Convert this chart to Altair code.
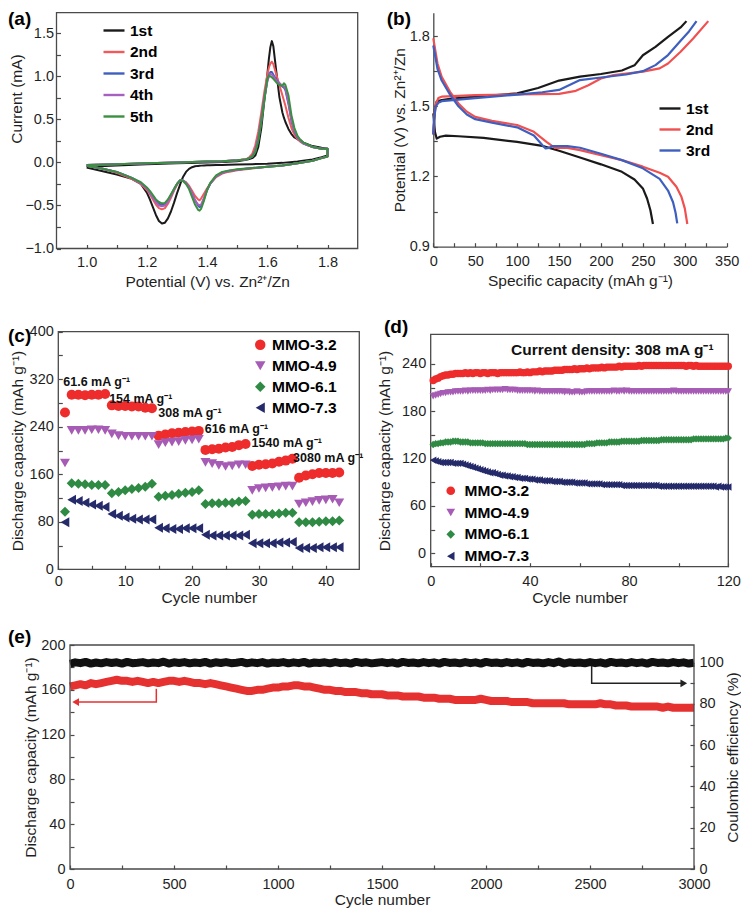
import altair as alt
import pandas as pd

W, H = 733, 903
FONT = "Liberation Sans"
INK = "#1f1f1f"
FRAME = "#4a4a4a"

# plot-area pixel boxes (chart coordinates)
A_X, A_Y = [48.5, 349.7], [240.5, 4.7]
B_X, B_Y = [425.3, 718.7], [238.7, 4.7]
C_X, C_Y = [50.3, 351.3], [561.3, 323.7]
D_X, D_Y = [422.7, 720.3], [558.7, 326.3]
E_X, E_Y = [62.0, 686.0], [861.0, 637.0]

# ---------------- (a) cyclic voltammetry ----------------
cv_names = ["1st", "2nd", "3rd", "4th", "5th"]
cv_colors = ["#1a1a1a", "#f05a5a", "#3e5fbf", "#a860c0", "#3a9040"]
cv_v_up = [1.00, 1.10, 1.20, 1.30, 1.40, 1.45, 1.50, 1.53, 1.54, 1.55, 1.56, 1.57, 1.58, 1.59, 1.60, 1.605,
           1.61, 1.615, 1.62, 1.63, 1.64, 1.65, 1.655, 1.66, 1.67, 1.68, 1.69, 1.70, 1.71, 1.72, 1.75, 1.78, 1.80]
cv_v_down = [1.80, 1.78, 1.75, 1.70, 1.65, 1.60, 1.55, 1.50, 1.47, 1.45, 1.43, 1.41, 1.40, 1.39, 1.38, 1.375,
             1.37, 1.36, 1.35, 1.34, 1.33, 1.32, 1.315, 1.31, 1.30, 1.29, 1.28, 1.27, 1.26, 1.25, 1.24, 1.23,
             1.22, 1.21, 1.20, 1.18, 1.15, 1.10, 1.05, 1.00]
cv1_up = [-0.05, -0.035, -0.02, -0.01, 0.0, 0.005, 0.015, 0.03, 0.04, 0.05, 0.08, 0.18, 0.40, 0.72, 1.02, 1.20,
          1.34, 1.41, 1.35, 1.05, 0.76, 0.58, 0.52, 0.47, 0.39, 0.33, 0.29, 0.27, 0.26, 0.23, 0.19, 0.17, 0.16]
cv2_up = [-0.03, -0.02, -0.01, 0.0, 0.01, 0.015, 0.025, 0.04, 0.06, 0.10, 0.20, 0.36, 0.58, 0.82, 1.02, 1.10,
          1.15, 1.17, 1.14, 1.02, 0.90, 0.78, 0.72, 0.66, 0.52, 0.40, 0.32, 0.27, 0.24, 0.22, 0.18, 0.16, 0.16]
cv3_up = [-0.03, -0.02, -0.01, 0.0, 0.01, 0.015, 0.025, 0.035, 0.05, 0.07, 0.14, 0.28, 0.50, 0.75, 0.95, 1.01,
          1.05, 1.05, 1.02, 0.96, 0.92, 0.88, 0.87, 0.84, 0.68, 0.48, 0.36, 0.29, 0.25, 0.22, 0.18, 0.16, 0.16]
cv4_up = [-0.03, -0.02, -0.01, 0.0, 0.01, 0.015, 0.025, 0.035, 0.05, 0.07, 0.13, 0.27, 0.48, 0.74, 0.94, 1.00,
          1.03, 1.02, 1.00, 0.95, 0.92, 0.89, 0.885, 0.86, 0.70, 0.50, 0.37, 0.30, 0.25, 0.22, 0.18, 0.16, 0.16]
cv5_up = [-0.03, -0.02, -0.01, 0.0, 0.01, 0.015, 0.025, 0.035, 0.05, 0.07, 0.12, 0.25, 0.47, 0.72, 0.97, 1.01,
          1.00, 0.99, 0.97, 0.93, 0.90, 0.89, 0.92, 0.90, 0.78, 0.55, 0.40, 0.31, 0.26, 0.23, 0.18, 0.16, 0.16]
cv1_down = [0.08, 0.06, 0.035, 0.01, -0.005, -0.015, -0.02, -0.025, -0.028, -0.03, -0.03, -0.032, -0.033, -0.035,
            -0.037, -0.038, -0.04, -0.045, -0.055, -0.075, -0.11, -0.17, -0.21, -0.26, -0.36, -0.47, -0.57, -0.65,
            -0.70, -0.71, -0.68, -0.61, -0.52, -0.43, -0.35, -0.25, -0.19, -0.14, -0.10, -0.06]
cv2_down = [0.07, 0.05, 0.02, -0.01, -0.035, -0.05, -0.07, -0.09, -0.11, -0.13, -0.17, -0.25, -0.30, -0.36, -0.42,
            -0.44, -0.43, -0.39, -0.33, -0.27, -0.23, -0.21, -0.205, -0.21, -0.26, -0.33, -0.41, -0.48, -0.53,
            -0.545, -0.53, -0.49, -0.43, -0.37, -0.32, -0.25, -0.19, -0.12, -0.07, -0.04]
cv3_down = [0.07, 0.05, 0.02, -0.01, -0.035, -0.05, -0.065, -0.085, -0.10, -0.12, -0.16, -0.25, -0.32, -0.42, -0.51,
            -0.52, -0.50, -0.44, -0.36, -0.29, -0.24, -0.21, -0.205, -0.21, -0.25, -0.31, -0.38, -0.44, -0.48,
            -0.495, -0.48, -0.45, -0.40, -0.35, -0.30, -0.24, -0.18, -0.11, -0.07, -0.04]
cv4_down = [0.07, 0.05, 0.02, -0.01, -0.035, -0.05, -0.065, -0.085, -0.10, -0.12, -0.16, -0.25, -0.32, -0.41, -0.49,
            -0.50, -0.49, -0.44, -0.36, -0.29, -0.24, -0.21, -0.205, -0.21, -0.25, -0.32, -0.39, -0.46, -0.50,
            -0.51, -0.50, -0.46, -0.41, -0.35, -0.30, -0.24, -0.18, -0.11, -0.07, -0.04]
cv5_down = [0.07, 0.05, 0.02, -0.01, -0.035, -0.05, -0.065, -0.08, -0.095, -0.11, -0.15, -0.24, -0.32, -0.44, -0.54,
            -0.56, -0.55, -0.49, -0.40, -0.31, -0.25, -0.215, -0.205, -0.21, -0.25, -0.31, -0.37, -0.43, -0.47,
            -0.475, -0.46, -0.43, -0.38, -0.33, -0.29, -0.23, -0.18, -0.11, -0.07, -0.04]
a_xticks = [1.0, 1.1, 1.2, 1.3, 1.4, 1.5, 1.6, 1.7, 1.8]
a_yticks = [-1.0, -0.75, -0.5, -0.25, 0.0, 0.25, 0.5, 0.75, 1.0, 1.25, 1.5]

# ---------------- (b) charge / discharge ----------------
gcd_names = ["1st", "2nd", "3rd"]
gcd_colors = ["#1a1a1a", "#f05050", "#3e5fbf"]
gcd1_dis_cap = [0, 2, 4, 8, 15, 30, 60, 100, 130, 150, 175, 200, 225, 240, 250, 255, 259, 262]
gcd1_dis_v = [1.47, 1.39, 1.362, 1.37, 1.375, 1.372, 1.365, 1.348, 1.331, 1.31, 1.281, 1.252, 1.22, 1.187, 1.149,
              1.106, 1.056, 0.997]
gcd1_chg_cap = [0, 1, 2, 4, 10, 20, 50, 100, 125, 150, 175, 200, 225, 240, 250, 265, 280, 295, 302]
gcd1_chg_v = [1.38, 1.43, 1.49, 1.52, 1.527, 1.532, 1.541, 1.555, 1.578, 1.61, 1.627, 1.638, 1.653, 1.675, 1.718,
              1.754, 1.797, 1.837, 1.864]
gcd2_dis_cap = [0, 5, 10, 20, 30, 40, 50, 70, 100, 120, 135, 145, 160, 175, 200, 225, 250, 270, 280, 290, 296, 300, 303]
gcd2_dis_v = [1.79, 1.683, 1.626, 1.562, 1.512, 1.477, 1.455, 1.438, 1.42, 1.391, 1.348, 1.322, 1.322, 1.313, 1.291,
              1.27, 1.242, 1.216, 1.199, 1.156, 1.113, 1.064, 0.997]
gcd2_chg_cap = [0, 1, 3, 6, 10, 50, 100, 150, 170, 185, 200, 215, 250, 270, 280, 295, 310, 328]
gcd2_chg_v = [1.38, 1.45, 1.51, 1.535, 1.541, 1.548, 1.551, 1.553, 1.566, 1.59, 1.619, 1.633, 1.648, 1.662, 1.683,
              1.733, 1.79, 1.864]
gcd3_dis_cap = [0, 5, 10, 20, 30, 40, 50, 70, 100, 120, 130, 134, 138, 142, 160, 175, 200, 225, 250, 270, 280, 286,
                289, 291]
gcd3_dis_v = [1.76, 1.66, 1.61, 1.55, 1.50, 1.465, 1.445, 1.43, 1.41, 1.375, 1.335, 1.32, 1.322, 1.33, 1.33, 1.323,
              1.297, 1.27, 1.235, 1.19, 1.14, 1.09, 1.045, 1.0]
gcd3_chg_cap = [0, 1, 3, 6, 10, 50, 100, 130, 150, 165, 175, 200, 230, 250, 265, 280, 295, 305, 314]
gcd3_chg_v = [1.38, 1.45, 1.50, 1.515, 1.522, 1.535, 1.55, 1.56, 1.57, 1.595, 1.612, 1.623, 1.636, 1.65, 1.676,
              1.719, 1.78, 1.82, 1.864]
b_xticks = [0, 25, 50, 75, 100, 125, 150, 175, 200, 225, 250, 275, 300, 325, 350]
b_yticks = [0.9, 1.05, 1.2, 1.35, 1.5, 1.65, 1.8]

# ---------------- (c) rate capability ----------------
mmo_names = ["MMO-3.2", "MMO-4.9", "MMO-6.1", "MMO-7.3"]
mmo_colors = ["#ee2c2c", "#a65bb4", "#2f8a43", "#252a6a"]
mmo_shapes = ["circle", "triangle-down", "diamond", "triangle-left"]
rate_red = [264, 294, 294, 293, 294, 294, 295, 276, 275, 275, 274, 274, 272, 271, 225, 227, 229, 230, 231, 232, 233,
            201, 202, 203, 205, 206, 209, 211, 174, 176, 177, 178, 181, 183, 186, 154, 158, 160, 162, 162, 162, 163]
rate_purple = [179, 234, 234, 234, 235, 235, 234, 228, 225, 224, 224, 224, 224, 224, 210, 213, 214, 215, 217, 218,
               219, 180, 178, 175, 173, 174, 176, 176, 133, 136, 137, 138, 139, 140, 140, 110, 112, 114, 116, 117,
               118, 112]
rate_green = [97, 145, 144, 143, 142, 142, 142, 128, 130, 133, 135, 137, 139, 144, 122, 124, 125, 127, 129, 130, 133,
              110, 111, 111, 112, 112, 114, 115, 92, 93, 93, 93, 94, 95, 95, 79, 79, 79, 80, 81, 81, 82]
rate_navy = [79, 117, 115, 112, 109, 107, 105, 93, 90, 87, 85, 84, 84, 84, 70, 69, 68, 68, 69, 69, 69, 58, 57, 57, 57,
             57, 57, 58, 44, 44, 44, 44, 45, 45, 46, 36, 36, 36, 37, 37, 37, 37]
rate_labels = ["61.6 mA g⁻¹", "154 mA g⁻¹", "308 mA g⁻¹", "616 mA g⁻¹", "1540 mA g⁻¹", "3080 mA g⁻¹"]
rate_label_x = [0.75, 7.6, 14.95, 21.9, 28.9, 35.1]
rate_label_y = [316, 286, 262.6, 236, 212, 188]
c_xticks = [0, 5, 10, 15, 20, 25, 30, 35, 40]
c_yticks = [0, 40, 80, 120, 160, 200, 240, 280, 320, 360, 400]

# ---------------- (d) cycling at 308 mA/g ----------------
cyc_red = [219, 221, 222, 224, 225, 226, 226, 227, 227, 228,
           228, 228, 228, 229, 228, 229, 228, 229, 229, 228,
           229, 229, 228, 229, 229, 229, 228, 229, 229, 229,
           229, 229, 229, 229, 229, 230, 229, 229, 230, 229,
           230, 230, 230, 231, 230, 231, 231, 231, 231, 232,
           232, 232, 232, 233, 233, 233, 233, 234, 233, 234,
           234, 234, 235, 234, 235, 235, 235, 235, 236, 235,
           236, 236, 236, 236, 236, 237, 236, 237, 237, 237,
           237, 237, 237, 238, 237, 238, 238, 238, 238, 238,
           238, 238, 238, 238, 238, 238, 238, 238, 238, 238,
           238, 238, 237, 238, 238, 237, 238, 237, 237, 237,
           237, 237, 237, 237, 237, 237, 237, 237, 237, 237]
cyc_purple = [199, 200, 201, 202, 203, 203, 204, 204, 204, 205,
              205, 205, 205, 206, 205, 206, 206, 206, 206, 206,
              206, 206, 207, 206, 207, 207, 207, 207, 207, 208,
              207, 207, 207, 207, 206, 206, 206, 206, 206, 206,
              206, 205, 206, 205, 205, 205, 205, 205, 205, 205,
              205, 205, 205, 204, 205, 204, 204, 204, 205, 204,
              204, 204, 205, 205, 205, 205, 205, 205, 205, 205,
              205, 205, 205, 206, 205, 205, 206, 205, 206, 205,
              205, 205, 205, 205, 205, 205, 205, 205, 205, 205,
              205, 205, 205, 205, 205, 205, 205, 206, 205, 205,
              205, 205, 205, 205, 205, 205, 205, 205, 205, 205,
              205, 205, 205, 205, 205, 205, 205, 205, 205, 205]
cyc_green = [138, 139, 139, 140, 140, 141, 141, 141, 142, 142,
             142, 141, 141, 141, 141, 140, 140, 140, 140, 140,
             140, 139, 139, 139, 139, 139, 139, 139, 139, 139,
             139, 139, 139, 139, 139, 139, 139, 139, 138, 138,
             138, 138, 138, 138, 138, 138, 138, 138, 138, 138,
             138, 138, 138, 138, 138, 138, 138, 138, 138, 138,
             138, 138, 139, 139, 139, 139, 140, 140, 140, 140,
             140, 141, 141, 141, 141, 141, 142, 142, 142, 142,
             142, 142, 142, 142, 143, 143, 143, 143, 143, 143,
             143, 143, 144, 144, 144, 144, 144, 144, 144, 144,
             144, 144, 144, 144, 144, 145, 145, 145, 145, 145,
             145, 145, 145, 145, 145, 145, 145, 145, 146, 146]
cyc_navy = [118, 117, 116, 115, 115, 115, 115, 115, 114, 114,
            114, 114, 113, 112, 111, 110, 109, 108, 107, 106,
            105, 104, 103, 102, 102, 101, 100, 99, 99, 98,
            98, 97, 97, 96, 96, 95, 95, 95, 94, 94,
            94, 93, 93, 93, 92, 92, 92, 92, 91, 91,
            91, 91, 90, 90, 90, 90, 90, 89, 89, 89,
            89, 89, 88, 88, 88, 88, 88, 88, 87, 87,
            87, 87, 87, 87, 87, 87, 86, 86, 86, 86,
            86, 86, 86, 86, 86, 86, 86, 86, 86, 86,
            86, 85, 85, 85, 85, 85, 85, 85, 85, 85,
            85, 85, 85, 85, 85, 85, 85, 85, 85, 85,
            85, 85, 85, 85, 84, 85, 84, 84, 84, 84]
d_note = "Current density: 308 mA g⁻¹"
d_note_x, d_note_y = 32.4, 257.7
d_xticks = [0, 20, 40, 60, 80, 100, 120]
d_yticks = [0, 30, 60, 90, 120, 150, 180, 210, 240]

# ---------------- (e) long-term cycling ----------------
long_cap = [163, 164, 165, 164, 166, 165, 166, 167, 168, 169,
            168, 168, 167, 168, 167, 166, 167, 166, 167, 168,
            168, 167, 168, 167, 166, 166, 165, 166, 165, 164,
            163, 162, 161, 160, 159, 159, 160, 160, 161, 162,
            162, 163, 163, 164, 164, 163, 163, 162, 161, 160,
            160, 159, 159, 158, 158, 158, 157, 157, 156, 156,
            156, 155, 155, 155, 154, 154, 154, 154, 153, 153,
            153, 152, 152, 152, 151, 151, 151, 151, 151, 152,
            151, 150, 150, 150, 150, 149, 149, 149, 149, 148,
            148, 148, 148, 148, 148, 148, 147, 147, 147, 147,
            147, 147, 148, 147, 147, 146, 146, 146, 145, 145,
            145, 145, 145, 145, 144, 145, 144, 144, 144, 144,
            144]
long_ce = [99.5, 100.2, 99.8, 100.4, 99.6, 100.1, 99.7, 100.3, 99.9, 100.2,
           99.6, 100.4, 99.8, 100.0, 100.3, 99.7, 100.1, 99.8, 100.5, 99.6,
           100.2, 99.9, 100.3, 99.7, 100.1, 99.8, 100.4, 99.6, 100.2, 99.9,
           100.3, 99.8, 100.0, 100.4, 99.7, 100.2, 99.8, 100.3, 99.6, 100.1,
           99.9, 100.3, 99.7, 100.2, 99.8, 100.4, 99.6, 100.1, 99.9, 100.2,
           99.7, 100.3, 99.8, 100.1, 99.6, 100.4, 99.9, 100.2, 99.7, 100.0,
           100.3, 99.8, 100.2, 99.6, 100.4, 99.9, 100.1, 99.7, 100.3, 99.8,
           100.2, 99.6, 100.4, 99.9, 100.1, 99.7, 100.3, 99.8, 100.2, 99.6,
           100.4, 99.9, 100.1, 99.7, 100.3, 99.8, 100.2, 99.6, 100.4, 99.9,
           100.1, 99.7, 100.3, 99.8, 100.6, 99.6, 100.2, 99.9, 100.1, 99.7,
           100.3, 99.8, 100.2, 99.6, 100.4, 99.9, 100.1, 99.7, 100.3, 99.8,
           100.2, 99.6, 100.4, 99.9, 100.1, 99.7, 100.3, 99.8, 100.2, 99.6,
           100.0]
long_step = 25
red_arrow_x = [415, 415, 27]
red_arrow_y = [161, 149, 149]
black_arrow_x = [2508, 2508, 2951]
black_arrow_y = [98.4, 90, 90]
e_xticks = [0, 250, 500, 750, 1000, 1250, 1500, 1750, 2000, 2250, 2500, 2750, 3000]
e_lticks = [0, 20, 40, 60, 80, 100, 120, 140, 160, 180, 200]
e_rticks = [0, 10, 20, 30, 40, 50, 60, 70, 80, 90, 100]

E_RED = "#e63131"
E_BLACK = "#111111"

# ---------------- helpers ----------------
def axis(orient, pos, values, label_expr, title, gap, tpad, **kw):
    if orient == "left":
        off = -pos
    elif orient == "right":
        off = pos - W
    elif orient == "bottom":
        off = pos - H
    else:
        off = -pos
    opts = dict(orient=orient, offset=off, values=values, labelExpr=label_expr, title=title,
                tickSize={"expr": "-4"}, labelPadding=gap + 4, titlePadding=tpad,
                labelOverlap=False, labelFlush=False, grid=False, domain=False)
    opts.update(kw)
    return alt.Axis(**opts)


def lin(domain, rng):
    return alt.Scale(domain=domain, range=rng, nice=False, zero=False)


def frame(xs, ys, xd, yd):
    df = pd.DataFrame({"x0": [xd[0]], "x1": [xd[1]], "y0": [yd[0]], "y1": [yd[1]]})
    return alt.Chart(df).mark_rect(filled=False, stroke=FRAME, strokeWidth=1.3).encode(
        x=alt.X("x0:Q", scale=xs, axis=None), x2="x1:Q",
        y=alt.Y("y0:Q", scale=ys, axis=None), y2="y1:Q")


def plabel(txt, x, y):
    return alt.Chart(pd.DataFrame({"t": [txt]})).mark_text(
        align="left", baseline="top", fontSize=19, fontWeight="bold", font=FONT, color="#000"
    ).encode(text="t:N", x=alt.value(x), y=alt.value(y))


# ---------------- panel (a) ----------------
rows = []
for name, up, down in zip(cv_names, [cv1_up, cv2_up, cv3_up, cv4_up, cv5_up],
                          [cv1_down, cv2_down, cv3_down, cv4_down, cv5_down]):
    k = 0
    for v, i in zip(cv_v_up, up):
        rows.append({"cycle": name, "V": v, "I": i, "k": k})
        k += 1
    for v, i in zip(cv_v_down, down):
        rows.append({"cycle": name, "V": v, "I": i, "k": k})
        k += 1
cv_df = pd.DataFrame(rows)

A_XD, A_YD = [0.9, 1.9], [-1.0, 1.74]
xa, ya = lin(A_XD, A_X), lin(A_YD, A_Y)
a_lines = alt.Chart(cv_df).mark_line(strokeWidth=2, strokeJoin="round").encode(
    x=alt.X("V:Q", scale=xa, axis=axis("bottom", A_Y[0], a_xticks,
            "abs(round(datum.value*10)) % 2 == 0 ? format(datum.value, '.1f') : ''",
            "Potential (V) vs. Zn²⁺/Zn", 7, 5)),
    y=alt.Y("I:Q", scale=ya, axis=axis("left", A_X[0], a_yticks,
            "abs(round(datum.value*4)) % 2 == 0 ? format(datum.value, '.1f') : ''",
            "Current (mA)", 3, 0.5, titleY=90.5)),
    color=alt.Color("cycle:N", scale=alt.Scale(domain=cv_names, range=cv_colors),
                    legend=alt.Legend(orient="none", legendX=94, legendY=10.5, title=None,
                                      symbolType="stroke", symbolSize=441, symbolStrokeWidth=2.4,
                                      rowPadding=0.5, labelOffset=4, padding=0)),
    order="k:Q",
)

# ---------------- panel (b) ----------------
rows = []
for name, cap, v, br in [("1st", gcd1_dis_cap, gcd1_dis_v, "d"), ("1st", gcd1_chg_cap, gcd1_chg_v, "c"),
                         ("2nd", gcd2_dis_cap, gcd2_dis_v, "d"), ("2nd", gcd2_chg_cap, gcd2_chg_v, "c"),
                         ("3rd", gcd3_dis_cap, gcd3_dis_v, "d"), ("3rd", gcd3_chg_cap, gcd3_chg_v, "c")]:
    for k, (c, vv) in enumerate(zip(cap, v)):
        rows.append({"cycle": name, "curve": name + br, "cap": c, "V": vv, "k": k})
gcd_df = pd.DataFrame(rows)

B_XD, B_YD = [0, 350], [0.9, 1.9]
xb, yb = lin(B_XD, B_X), lin(B_YD, B_Y)
b_lines = alt.Chart(gcd_df).mark_line(strokeWidth=2.2, strokeJoin="round").encode(
    x=alt.X("cap:Q", scale=xb, axis=axis("bottom", B_Y[0], b_xticks,
            "datum.value % 50 == 0 ? format(datum.value, 'd') : ''",
            "Specific capacity (mAh g⁻¹)", 8, 5, domain=True)),
    y=alt.Y("V:Q", scale=yb, axis=axis("left", B_X[0], b_yticks,
            "abs(round(datum.value*100)) % 30 == 0 ? format(datum.value, '.1f') : ''",
            "Potential (V) vs. Zn²⁺/Zn", 4, 2, domain=True)),
    color=alt.Color("cycle:N", scale=alt.Scale(domain=gcd_names, range=gcd_colors),
                    legend=alt.Legend(orient="none", legendX=650, legendY=88.5, title=None,
                                      symbolType="stroke", symbolSize=441, symbolStrokeWidth=2.4,
                                      rowPadding=0, labelOffset=4, padding=0)),
    detail="curve:N",
    order="k:Q",
)

# ---------------- panel (c) ----------------
rows = []
for name, vals in zip(mmo_names, [rate_red, rate_purple, rate_green, rate_navy]):
    for k, val in enumerate(vals):
        rows.append({"series": name, "cycle": k + 1, "cap": val})
rate_df = pd.DataFrame(rows)

C_XD, C_YD = [0, 45], [0, 400]
xc, yc = lin(C_XD, C_X), lin(C_YD, C_Y)
leg_c = alt.Legend(orient="none", legendX=244.5, legendY=329, title=None, symbolSize=110,
                   rowPadding=4, labelOffset=4, padding=0)
c_pts = alt.Chart(rate_df).mark_point(filled=True, size=100, opacity=1).encode(
    x=alt.X("cycle:Q", scale=xc, axis=axis("bottom", C_Y[0], c_xticks,
            "datum.value % 10 == 0 ? format(datum.value, 'd') : ''", "Cycle number", 5, 3)),
    y=alt.Y("cap:Q", scale=yc, axis=axis("left", C_X[0], c_yticks,
            "datum.value % 80 == 0 ? format(datum.value, 'd') : ''", "Discharge capacity (mAh g⁻¹)", 5, 3.5)),
    color=alt.Color("series:N", scale=alt.Scale(domain=mmo_names, range=mmo_colors), legend=leg_c),
    shape=alt.Shape("series:N", scale=alt.Scale(domain=mmo_names, range=mmo_shapes), legend=leg_c),
)
ann_df = pd.DataFrame({"t": rate_labels, "x": rate_label_x, "y": rate_label_y})
c_ann = alt.Chart(ann_df).mark_text(align="left", baseline="middle", fontSize=12.5, fontWeight="bold",
                                    font=FONT, color="#111").encode(
    x=alt.X("x:Q", scale=xc, axis=None), y=alt.Y("y:Q", scale=yc, axis=None), text="t:N")

# ---------------- panel (d) ----------------
rows = []
for name, vals in zip(mmo_names, [cyc_red, cyc_purple, cyc_green, cyc_navy]):
    for k, val in enumerate(vals):
        rows.append({"series": name, "cycle": k + 1, "cap": val})
cyc_df = pd.DataFrame(rows)

D_XD, D_YD = [0, 120], [-17, 277.6]
xd, yd = lin(D_XD, D_X), lin(D_YD, D_Y)
leg_d = alt.Legend(orient="none", legendX=435, legendY=475, title=None, symbolSize=75,
                   rowPadding=4.8, labelOffset=6, padding=0)
d_pts = alt.Chart(cyc_df).mark_point(filled=True, size=55, opacity=1).encode(
    x=alt.X("cycle:Q", scale=xd, axis=axis("bottom", D_Y[0], d_xticks,
            "datum.value % 40 == 0 ? format(datum.value, 'd') : ''", "Cycle number", 8, 2)),
    y=alt.Y("cap:Q", scale=yd, axis=axis("left", D_X[0], d_yticks,
            "datum.value % 60 == 0 ? format(datum.value, 'd') : ''", "Discharge capacity (mAh g⁻¹)", 5, 9)),
    color=alt.Color("series:N", scale=alt.Scale(domain=mmo_names, range=mmo_colors), legend=leg_d),
    shape=alt.Shape("series:N", scale=alt.Scale(domain=mmo_names, range=mmo_shapes), legend=leg_d),
)
d_txt = alt.Chart(pd.DataFrame({"t": [d_note], "x": [d_note_x], "y": [d_note_y]})).mark_text(
    align="left", baseline="middle", fontSize=15.5, fontWeight="bold", font=FONT, color="#111").encode(
    x=alt.X("x:Q", scale=xd, axis=None), y=alt.Y("y:Q", scale=yd, axis=None), text="t:N")

# ---------------- panel (e) ----------------
long_df = pd.DataFrame({"cycle": [long_step * k for k in range(len(long_cap))], "cap": long_cap, "ce": long_ce})
E_XD, E_LD, E_RD = [0, 3000], [0, 200], [0, 108.6]
xe, yel, yer = lin(E_XD, E_X), lin(E_LD, E_Y), lin(E_RD, E_Y)

e_cap = alt.Chart(long_df).mark_line(strokeWidth=8, color=E_RED, strokeJoin="round").encode(
    x=alt.X("cycle:Q", scale=xe, axis=axis("bottom", E_Y[0], e_xticks,
            "datum.value % 500 == 0 ? format(datum.value, 'd') : ''", "Cycle number", 8, 2)),
    y=alt.Y("cap:Q", scale=yel, axis=axis("left", E_X[0], e_lticks,
            "datum.value % 40 == 0 ? format(datum.value, 'd') : ''", "Discharge capacity (mAh g⁻¹)", 5, 2)),
)
e_ce = alt.Chart(long_df).mark_line(strokeWidth=8, color=E_BLACK, strokeJoin="round").encode(
    x=alt.X("cycle:Q", scale=xe, axis=None),
    y=alt.Y("ce:Q", scale=yer, axis=axis("right", E_X[1], e_rticks,
            "datum.value % 20 == 0 ? format(datum.value, 'd') : ''", "Coulombic efficiency (%)", 5, 2,
            titleAngle=-90, titleBaseline="top")),
)
ra_df = pd.DataFrame({"x": red_arrow_x, "y": red_arrow_y, "k": [0, 1, 2]})
ba_df = pd.DataFrame({"x": black_arrow_x, "y": black_arrow_y, "k": [0, 1, 2]})
e_ra = alt.Chart(ra_df).mark_line(strokeWidth=1.5, color=E_RED).encode(
    x=alt.X("x:Q", scale=xe, axis=None), y=alt.Y("y:Q", scale=yel, axis=None), order="k:Q")
e_rh = alt.Chart(ra_df.tail(1)).mark_point(shape="triangle-left", filled=True, size=60, color=E_RED,
                                           opacity=1).encode(
    x=alt.X("x:Q", scale=xe, axis=None), y=alt.Y("y:Q", scale=yel, axis=None))
e_ba = alt.Chart(ba_df).mark_line(strokeWidth=1.5, color="#222").encode(
    x=alt.X("x:Q", scale=xe, axis=None), y=alt.Y("y:Q", scale=yer, axis=None), order="k:Q")
e_bh = alt.Chart(ba_df.tail(1)).mark_point(shape="triangle-right", filled=True, size=60, color="#222",
                                           opacity=1).encode(
    x=alt.X("x:Q", scale=xe, axis=None), y=alt.Y("y:Q", scale=yer, axis=None))

units = [
    frame(xa, ya, A_XD, A_YD), a_lines, plabel("(a)", 0, 2),
    b_lines, plabel("(b)", 378.7, 2),
    frame(xc, yc, C_XD, C_YD), c_pts, c_ann, plabel("(c)", 0, 319),
    frame(xd, yd, D_XD, D_YD), d_pts, d_txt, plabel("(d)", 376, 310),
    e_cap, e_ce, e_ra, e_rh, e_ba, e_bh, frame(xe, yel, E_XD, E_LD), plabel("(e)", 0, 620),
]

chart = alt.layer(*units).resolve_scale(
    x="independent", y="independent", color="independent", shape="independent"
).properties(
    width=W, height=H, autosize=alt.AutoSizeParams(type="none"), padding=0
).configure_view(strokeWidth=0).configure_axis(
    labelFont=FONT, labelFontSize=14.5, labelColor=INK,
    titleFont=FONT, titleFontSize=15.5, titleColor=INK, titleFontWeight="normal",
    tickColor=FRAME, domainColor=FRAME, tickWidth=1.2, domainWidth=1.3,
).configure_legend(
    labelFont=FONT, labelFontSize=15.5, labelFontWeight="bold", labelColor="#000",
)

chart.save("out.html", embed_options={"renderer": "svg", "actions": False})
